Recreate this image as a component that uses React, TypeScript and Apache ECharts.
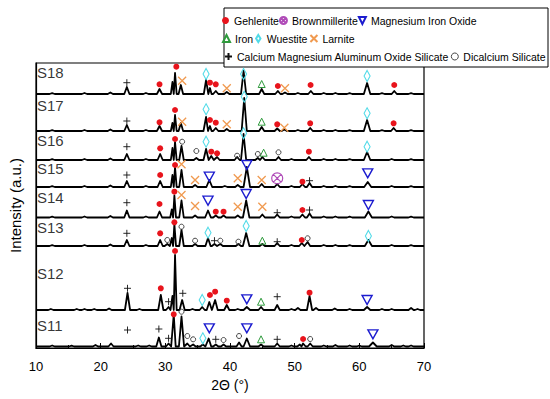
import React, { useEffect, useRef } from "react";
import * as echarts from "echarts";

// ---- Data (2θ in degrees, intensity in arbitrary units) ----
const SAMPLES = ["S11", "S12", "S13", "S14", "S15", "S16", "S17", "S18"];
const OFFSETS = [1.5, 38, 102, 130.5, 161, 188, 217, 254];
const LABEL_Y = [23, 75, 121, 151, 180, 208, 243, 276];

// peaks: [2θ, height above baseline, half width]
const PEAKS_S11 = [[12.5,1],[15.5,0.8],[19.2,1.5],[21.6,3],[25.8,1],[27.5,1],[29.0,9],[30.5,3],[31.3,32,0.3],[32.5,30,0.4],[33.4,3],[34.3,2],[35.8,2],[36.7,8],[37.8,2],[39.0,2],[41.4,4],[42.6,8,0.5],[44.8,2],[47.3,3],[49.5,1],[50.8,2],[51.3,3],[52.4,3],[54.5,1],[56.3,1.5],[58.5,1],[60.0,1],[62.1,4,0.6],[65.0,1.5],[66.8,1],[68.0,1]];
const PEAKS_S12 = [[12.3,1],[16.3,1],[17.5,1],[19.0,1],[21.3,1.5],[24.15,17],[26.0,1],[29.3,15],[30.5,3],[31.1,14,0.25],[31.5,55,0.25],[32.6,10],[34.2,1],[35.7,3],[36.8,8],[37.7,10],[39.5,5],[41.2,1],[42.6,3,0.5],[44.8,3],[47.3,5],[49.5,1],[50.5,2],[52.3,14],[53.3,2],[56.2,1.5],[58.5,1],[61.2,3,0.5],[63.5,1],[65.0,1],[68.0,2],[69.0,1]];
const PEAKS_S13 = [[12.5,0.8],[17.5,1],[21.5,1.5],[24.05,6],[27.0,1],[29.2,6],[30.3,2],[31.0,8,0.25],[31.4,22,0.25],[32.5,16,0.35],[34.6,2],[36.6,8],[37.6,2],[38.5,2],[41.3,2],[42.5,13,0.5],[45.0,2],[47.3,3],[49.5,1],[51.1,3],[52.0,4],[54.5,1],[56.3,1],[58.5,0.8],[61.4,6,0.55],[65.0,1],[68.0,0.8]];
const PEAKS_S14 = [[12.5,0.8],[17.5,1],[21.5,1.5],[24.05,7],[27.0,1],[29.1,6],[31.0,8,0.25],[31.4,22,0.25],[32.5,17,0.35],[34.6,2],[36.6,7,0.45],[37.8,2],[39.0,2],[41.2,2],[42.5,17,0.5],[45.0,3],[47.3,3],[49.5,1],[51.2,3],[52.3,4],[54.5,1],[56.3,1],[58.5,0.8],[61.4,6,0.55],[65.0,1],[68.0,0.8]];
const PEAKS_S15 = [[12.5,0.8],[17.5,1],[21.5,1.5],[24.05,6],[27.0,1],[29.2,6],[31.1,12,0.25],[31.5,20,0.25],[32.5,17,0.35],[34.6,2],[36.8,7,0.45],[39.2,1],[41.2,2],[42.6,20,0.5],[44.9,3],[47.3,3],[49.5,1],[51.2,3],[52.3,4],[54.5,1],[56.3,1],[58.5,0.8],[61.3,5,0.55],[65.0,1],[68.0,0.8]];
const PEAKS_S16 = [[12.5,0.8],[17.5,1],[21.5,1.5],[24.05,6],[27.0,1],[29.2,6],[31.1,12,0.25],[31.5,18,0.25],[32.5,14,0.35],[34.8,2],[36.3,11],[37.1,4],[38.0,3],[41.1,3],[42.1,26,0.4],[44.3,2],[45.0,3],[47.5,3],[49.5,1],[52.2,3],[54.5,1],[56.3,1],[58.5,0.8],[61.2,8,0.5],[65.0,1],[68.0,0.8]];
const PEAKS_S17 = [[12.5,0.8],[17.5,1],[21.5,1.5],[24.05,6],[27.0,1],[29.1,5],[31.1,8,0.25],[31.5,16,0.25],[32.4,8,0.35],[36.3,14],[36.9,5,0.25],[37.8,3],[39.5,2],[42.2,33,0.4],[44.9,4],[47.3,2.5],[48.4,1.5],[50.5,1],[52.4,3],[54.5,1],[56.3,1],[58.5,0.8],[61.2,11,0.5],[63.5,0.8],[65.3,3],[68.0,0.8]];
const PEAKS_S18 = [[12.5,0.8],[17.5,1],[21.5,1.5],[24.05,7],[27.0,1],[29.1,5],[31.1,12,0.25],[31.5,21,0.25],[32.4,9,0.35],[36.3,14,0.35],[36.9,6,0.25],[37.8,3],[39.5,2],[42.1,23,0.4],[44.9,5],[47.4,3],[48.5,1.5],[50.5,1],[52.5,3],[54.5,1],[56.3,1],[58.5,0.8],[61.2,11,0.5],[63.5,0.8],[65.4,3],[68.0,0.8]];
const PEAKS = [PEAKS_S11, PEAKS_S12, PEAKS_S13, PEAKS_S14, PEAKS_S15, PEAKS_S16, PEAKS_S17, PEAKS_S18];

// phase markers: [2θ, intensity]
const GEHLENITE = [[29.1,263.7],[31.7,281.3],[36.9,265.3],[37.8,263.7],[47.4,262],[52.46,263],[65.4,263],
  [29.1,225.7],[31.5,238],[36.9,228],[37.8,225.3],[47.3,223.7],[52.4,224.7],[65.3,224.7],
  [29.2,199.7],[31.5,209],[37.1,196.3],[38.0,194.7],[52.2,196.3],
  [29.2,173],[31.5,183],[51.2,166.3],
  [29.1,144],[31.4,156.3],[37.8,136.3],[39.0,136.3],[51.2,138],
  [29.2,114.7],[31.4,125.7],[51.1,108],
  [29.3,59.7],[31.5,97],[36.9,53],[37.7,56.3],[39.5,47.3],[52.3,55.3],
  [31.3,33.7],[51.3,9]];
const BROWNMILLERITE = [[47.3,169.7]];
const MAGNESIUM_IRON_OXIDE = [[36.8,171.3],[42.6,183],[61.3,174.7],[36.6,147.3],[42.5,154],[61.4,143],[42.6,48.7],[61.2,48],[36.8,19.7],[42.6,19.7],[62.1,13.7]];
const IRON = [[44.9,264],[44.9,226.3],[45.2,195.3],[45.0,107.3],[44.8,46.3],[44.8,8.7]];
const WUESTITE = [[36.3,274],[42.1,274],[61.2,272],[36.3,238.7],[42.2,251.3],[61.2,234.7],[36.3,206.3],[42.1,214.7],[61.2,201.3],[36.6,115.3],[42.5,122],[61.4,112],[35.7,48],[35.8,9.7]];
const LARNITE = [[32.6,267.3],[39.5,259.7],[48.5,259.7],[32.6,226.3],[39.5,223.7],[48.4,220.3],[32.5,183.7],[34.6,168],[41.2,169.7],[44.9,168],[32.5,153],[34.6,142],[41.2,141.3],[45.0,141.3]];
const CMAOS = [[24.05,265.3],[24.05,227],[24.05,201.3],[24.05,173],[52.3,167.3],[24.05,145.3],[47.3,135.3],[52.3,138],[24.05,114.7],[37.6,107.3],[47.3,106.3],[24.15,59.7],[30.5,46.3],[32.7,54.7],[47.3,51.3],[24.15,18],[29.0,19],[30.5,9.7],[37.8,8.7],[47.3,8.7]];
const DICALCIUM = [[32.6,206.3],[34.8,197],[41.1,192.3],[44.3,194],[47.5,195.7],[30.3,108],[32.5,121.3],[34.6,107.3],[38.5,107.3],[41.3,106.3],[52.0,109.7],[32.5,36.3],[33.4,12],[34.3,8.7],[39.0,8],[41.4,12],[52.4,9]];

const X_TICKS = [10, 20, 30, 40, 50, 60, 70];

const FONT = "Liberation Sans";
const DEFAULT_HW = 0.4;

function buildTrace(offset: number, peaks: number[][]) {
  const sorted = [...peaks].sort((a, b) => a[0] - b[0]);
  const pts: number[][] = [[X_TICKS[0], offset]];
  let prevRight = X_TICKS[0];
  sorted.forEach((pk, i) => {
    const [p, h] = pk;
    const w = pk[2] ?? DEFAULT_HW;
    const next = sorted[i + 1];
    const left = Math.max(p - w, prevRight);
    let right = p + w;
    if (next) {
      const nl = next[0] - (next[2] ?? DEFAULT_HW);
      if (nl < right) right = Math.max((p + next[0]) / 2, p + 0.05);
    }
    pts.push([left, offset], [p, offset + h], [right, offset]);
    prevRight = right;
  });
  pts.push([X_TICKS[X_TICKS.length - 1], offset]);
  return pts;
}

const PHASES = [
  { name: "Gehlenite", data: GEHLENITE, symbol: "circle", size: 6, color: "#e8141c", border: "#e8141c", bw: 0 },
  { name: "Brownmillerite", data: BROWNMILLERITE, symbol: "path://M10,5 A5,5 0 1,1 0,5 A5,5 0 1,1 10,5 Z M1.5,1.5 L8.5,8.5 M8.5,1.5 L1.5,8.5", size: 11, color: "transparent", border: "#b04cb8", bw: 1.2 },
  { name: "Magnesium Iron Oxide", data: MAGNESIUM_IRON_OXIDE, symbol: "path://M0,0 L10,0 L5,10 Z", size: [10, 9], color: "transparent", border: "#1c1ccf", bw: 1.4 },
  { name: "Iron", data: IRON, symbol: "path://M5,0 L10,10 L0,10 Z", size: [7, 7], color: "transparent", border: "#2e9a3c", bw: 1 },
  { name: "Wuestite", data: WUESTITE, symbol: "path://M5,0 L10,8 L5,16 L0,8 Z", size: [6, 11], color: "transparent", border: "#52dbe8", bw: 1.2 },
  { name: "Larnite", data: LARNITE, symbol: "path://M0,0 L10,10 M10,0 L0,10", size: 8, color: "transparent", border: "#f09a50", bw: 1.3 },
  { name: "Calcium Magnesium Aluminum Oxide Silicate", data: CMAOS, symbol: "path://M5,0 L5,10 M0,5 L10,5", size: 7, color: "transparent", border: "#111", bw: 0.9 },
  { name: "Dicalcium Silicate", data: DICALCIUM, symbol: "circle", size: 5, color: "transparent", border: "#444", bw: 1 },
];

export default function App() {
  const ref = useRef<HTMLDivElement>(null);
  useEffect(() => {
    if (!ref.current) return;
    const chart = echarts.init(ref.current, null, { renderer: "svg" });
    const traceSeries = SAMPLES.map((s, i) => ({
      name: s,
      type: "line",
      data: buildTrace(OFFSETS[i], PEAKS[i]),
      showSymbol: false,
      symbol: "none",
      lineStyle: { color: "#000", width: 1.8, join: "round" },
      z: 2,
      silent: true,
    }));
    const markerSeries = PHASES.map((p) => ({
      name: p.name,
      type: "scatter",
      data: p.data,
      symbol: p.symbol,
      symbolSize: p.size,
      symbolKeepAspect: false,
      itemStyle: { color: p.color, borderColor: p.border, borderWidth: p.bw, opacity: 1 },
      z: 5,
    }));
    const labelSeries = {
      name: "sample labels",
      type: "scatter",
      symbolSize: 0,
      data: SAMPLES.map((s, i) => ({ name: s, value: [10.15, LABEL_Y[i]] })),
      label: {
        show: true,
        position: "right",
        distance: 0,
        formatter: (d: any) => d.name,
        color: "#000",
        fontSize: 15,
        fontFamily: FONT,
      },
      z: 6,
      silent: true,
    };
    const legendBase = {
      orient: "horizontal",
      itemWidth: 7,
      itemHeight: 7,
      padding: 0,
      width: 330,
      textStyle: { fontSize: 10.5, fontFamily: FONT, color: "#000" },
      z: 10,
    };
    chart.setOption({
      animation: false,
      backgroundColor: "#fff",
      grid: { left: 33, right: 126, top: 63, bottom: 51, show: true, borderColor: "#000", borderWidth: 1.2, backgroundColor: "transparent" },
      xAxis: {
        type: "value",
        min: 10,
        max: 70,
        interval: 10,
        name: "2Θ (°)",
        nameLocation: "middle",
        nameGap: 29,
        nameTextStyle: { fontSize: 14, fontFamily: FONT, color: "#000" },
        axisLine: { lineStyle: { color: "#000", width: 1.2 } },
        axisTick: { inside: true, length: 5, lineStyle: { color: "#000" } },
        minorTick: { show: true, splitNumber: 2, length: 3, lineStyle: { color: "#000" } },
        axisLabel: { fontSize: 13, fontFamily: FONT, color: "#000", margin: 12 },
        splitLine: { show: false },
      },
      yAxis: {
        type: "value",
        min: 0,
        max: 285,
        name: "Intensity (a.u.)",
        nameLocation: "middle",
        nameGap: 13,
        nameTextStyle: { fontSize: 15, fontFamily: FONT, color: "#000" },
        axisLine: { show: true, lineStyle: { color: "#000", width: 1.2 } },
        axisTick: { show: false },
        axisLabel: { show: false },
        splitLine: { show: false },
      },
      legend: [
        { ...legendBase, left: 222, top: 15, itemGap: 0, data: ["Gehlenite", "Brownmillerite", "Magnesium Iron Oxide"] },
        { ...legendBase, left: 222, top: 33, itemGap: 2, data: ["Iron", "Wuestite", "Larnite"] },
        {
          ...legendBase, left: 224, top: 51, itemGap: 2,
          data: [
            "Calcium Magnesium Aluminum Oxide Silicate",
            { name: "Dicalcium Silicate", icon: "circle", itemStyle: { color: "transparent", borderColor: "#444", borderWidth: 1 } },
          ],
        },
      ],
      graphic: [
        { type: "rect", z: 3, shape: { x: 224, y: 8, width: 324, height: 59 }, style: { fill: "#fff", stroke: "#000", lineWidth: 1 } },
      ],
      series: [...traceSeries, ...markerSeries, labelSeries],
    });
    return () => chart.dispose();
  }, []);
  return <div ref={ref} style={{ width: 550, height: 399, position: "absolute", left: 0, top: 0 }} />;
}
